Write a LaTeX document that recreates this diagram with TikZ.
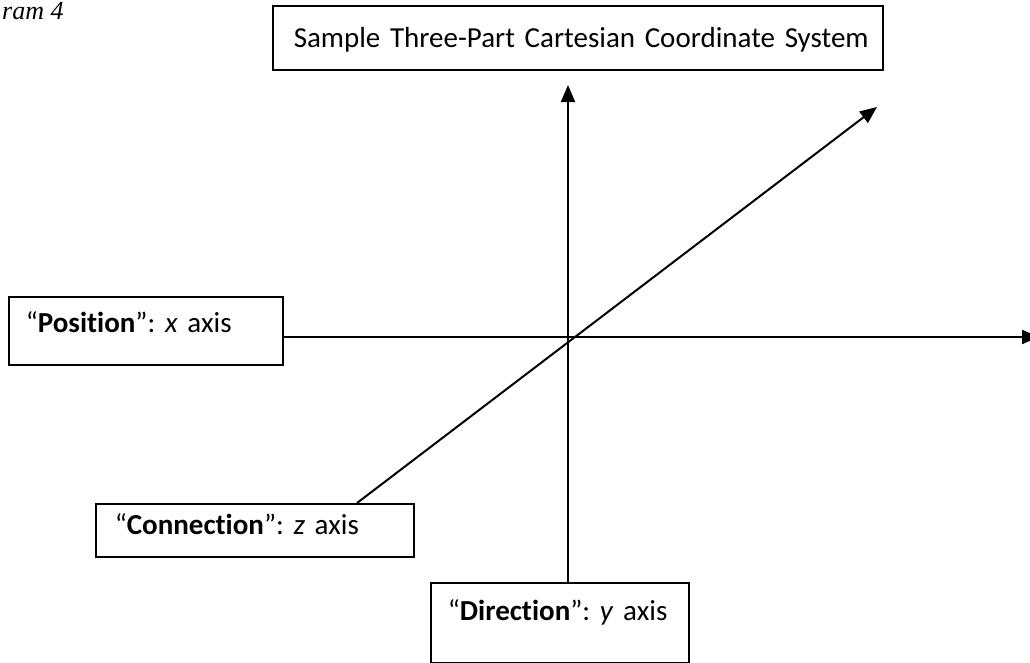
\documentclass[tikz,border=0pt]{standalone}
\usepackage{fontspec}
\setmainfont{Carlito}[Ligatures={NoCommon}]
\newfontfamily\capfont{Liberation Serif}
\usetikzlibrary{arrows.meta}
\frenchspacing
\begin{document}
\begin{tikzpicture}[x=1pt,y=-1pt,
  box/.style={draw, line width=1.5pt, rectangle, anchor=north west, align=left,
    font=\fontsize{29}{34}\selectfont, inner ysep=0pt, text height=22pt},
  axis/.style={line width=2pt, -{Triangle[length=17pt,width=14pt]}}]
\useasboundingbox (0,0) rectangle (1030,662);
\node[anchor=base west, inner sep=0pt, font=\capfont\itshape\fontsize{26}{30}\selectfont] (cap) at (2,19) {ram 4};
\node[box, minimum width=610pt, minimum height=64pt, text width=568pt, inner xsep=21pt, text depth=2pt] (title) at (272,5) {\mbox{Sample Three-Part Cartesian Coordinate System}};
\node[box, minimum width=273pt, minimum height=68pt, text width=240pt, inner xsep=17pt, text depth=18pt] (pos) at (8,296) {\mbox{“\textbf{Position}”: \textit{x} axis}};
\node[box, minimum width=318pt, minimum height=53pt, text width=280pt, inner xsep=19pt, text depth=14pt] (conn) at (95,503) {\mbox{“\textbf{Connection}”: \textit{z} axis}};
\node[box, minimum width=258pt, minimum height=80pt, text width=224pt, inner xsep=17pt, text depth=26pt] (dir) at (430,582) {\mbox{“\textbf{Direction}”: \textit{y} axis}};
\coordinate (ytip) at (568,85);
\coordinate (xtip) at (1039,337);
\coordinate (ztip) at (877,107);
\coordinate (zbase) at (357,503);
\draw[axis] (ytip |- dir.north) -- (ytip);
\draw[axis] (pos.east |- xtip) -- (xtip);
\draw[axis] (zbase) -- (ztip);
\end{tikzpicture}
\end{document}
